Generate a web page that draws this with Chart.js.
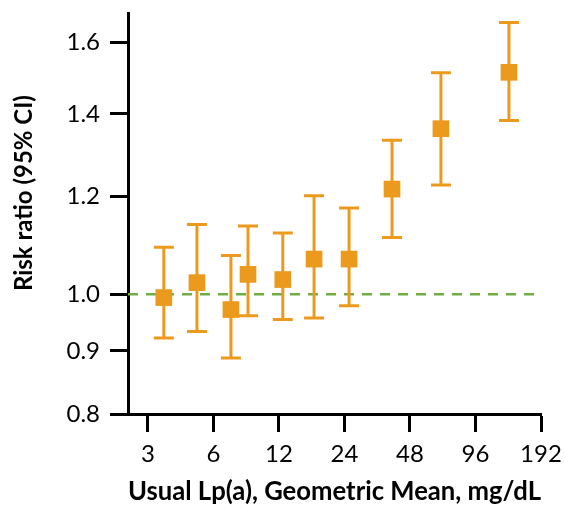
<!DOCTYPE html>
<html>
<head>
<meta charset="utf-8">
<script src="https://cdn.jsdelivr.net/npm/chart.js@4/dist/chart.umd.min.js"></script>
<style>
  html, body { margin: 0; padding: 0; background: #fff; }
  #wrap { width: 565px; height: 509px; position: relative; }
</style>
</head>
<body>
<div id="wrap"><canvas id="chartRR"></canvas></div>
<script>
// values
const xTickValues = [3, 6, 12, 24, 48, 96, 192];
const yTickValues = [0.8, 0.9, 1.0, 1.2, 1.4, 1.6];

const lpaMeans   = [3.55, 5.04, 7.22, 8.65, 12.5, 17.4, 25.2, 39.7, 66.6, 136.8];
const riskRatios = [0.994, 1.022, 0.972, 1.038, 1.028, 1.068, 1.068, 1.217, 1.362, 1.513];
const ciLower    = [0.922, 0.933, 0.888, 0.961, 0.954, 0.957, 0.979, 1.112, 1.226, 1.383];
const ciUpper    = [1.092, 1.139, 1.075, 1.136, 1.121, 1.202, 1.175, 1.333, 1.512, 1.660];

const xMin = 2.43, xMax = 192;
const yMin = 0.8, yMax = 1.69;

const orange = 'rgb(236,154,30)';
const green = 'rgb(112,173,71)';
const fontFamily = 'Lato, "Liberation Sans", sans-serif';

// y title sits ~20px above the middle of the axis in the original;
// pad the start of the string with spaces to nudge it
const yTitleFont = { family: fontFamily, size: 24, weight: 'bold' };
const probe = document.createElement('canvas').getContext('2d');
probe.font = 'bold 24px ' + fontFamily;
const nSpaces = Math.round(40 / probe.measureText(' ').width);
const yTitle = ' '.repeat(nSpaces) + 'Risk ratio (95% CI)';

// whiskers drawn just before the markers
const errorBars = {
    id: 'errorBars',
    beforeDatasetDraw(chart, args) {
        if (args.index !== 0) return;
        const { ctx, scales: { x, y } } = chart;
        ctx.save();
        ctx.strokeStyle = orange;
        ctx.lineWidth = 3;
        lpaMeans.forEach((m, i) => {
            const px = x.getPixelForValue(m);
            const top = y.getPixelForValue(ciUpper[i]);
            const bot = y.getPixelForValue(ciLower[i]);
            ctx.beginPath();
            ctx.moveTo(px, top); ctx.lineTo(px, bot);
            ctx.moveTo(px - 10, top); ctx.lineTo(px + 10, top);
            ctx.moveTo(px - 10, bot); ctx.lineTo(px + 10, bot);
            ctx.stroke();
        });
        ctx.restore();
    }
};

const axisCommon = {
    border: { display: true, color: '#000', width: 3 },
    grid: { display: true, drawOnChartArea: false, drawTicks: true, tickLength: 18, tickWidth: 3, tickColor: '#000' }
};

new Chart(document.getElementById('chartRR'), {
    type: 'scatter',
    data: {
        datasets: [{
            label: 'Risk ratio',
            data: lpaMeans.map((m, i) => ({ x: m, y: riskRatios[i] })),
            pointStyle: 'rect',
            pointRadius: 11.8,
            pointHoverRadius: 11.8,
            backgroundColor: orange,
            borderWidth: 0
        }, {
            label: 'Reference',
            data: [{ x: xMin, y: 1 }, { x: xMax, y: 1 }],
            showLine: true,
            borderColor: green,
            borderWidth: 2.5,
            borderDash: [10, 8],
            pointRadius: 0
        }]
    },
    options: {
        responsive: true,
        maintainAspectRatio: false,
        animation: false,
        layout: { padding: { top: 13, right: 24, bottom: 0, left: 0 } },
        plugins: { legend: { display: false }, tooltip: { enabled: false } },
        scales: {
            x: {
                ...axisCommon,
                type: 'logarithmic',
                min: xMin,
                max: xMax,
                afterBuildTicks: axis => { axis.ticks = xTickValues.map(v => ({ value: v })); },
                afterFit: axis => {
                    axis.height = 95;
                    axis.paddingLeft = 0;
                    axis.paddingRight = 0;
                },
                ticks: {
                    autoSkip: false,
                    maxRotation: 0,
                    padding: 8,
                    color: '#000',
                    font: { family: fontFamily, size: 24 },
                    callback: v => String(v)
                },
                title: {
                    display: true,
                    text: 'Usual Lp(a), Geometric Mean, mg/dL',
                    color: '#000',
                    font: { family: fontFamily, size: 27, weight: 'bold' },
                    padding: { top: 0, bottom: 2 }
                }
            },
            y: {
                ...axisCommon,
                type: 'logarithmic',
                min: yMin,
                max: yMax,
                afterBuildTicks: axis => { axis.ticks = yTickValues.map(v => ({ value: v })); },
                afterFit: axis => {
                    axis.width = 128;
                    axis.paddingTop = 0;
                    axis.paddingBottom = 0;
                },
                ticks: {
                    autoSkip: false,
                    padding: 10,
                    color: '#000',
                    font: { family: fontFamily, size: 24 },
                    callback: v => Number(v).toFixed(1)
                },
                title: {
                    display: true,
                    text: yTitle,
                    color: '#000',
                    font: yTitleFont,
                    padding: { top: 10, bottom: 0 }
                }
            }
        }
    },
    plugins: [errorBars]
});
</script>
</body>
</html>
